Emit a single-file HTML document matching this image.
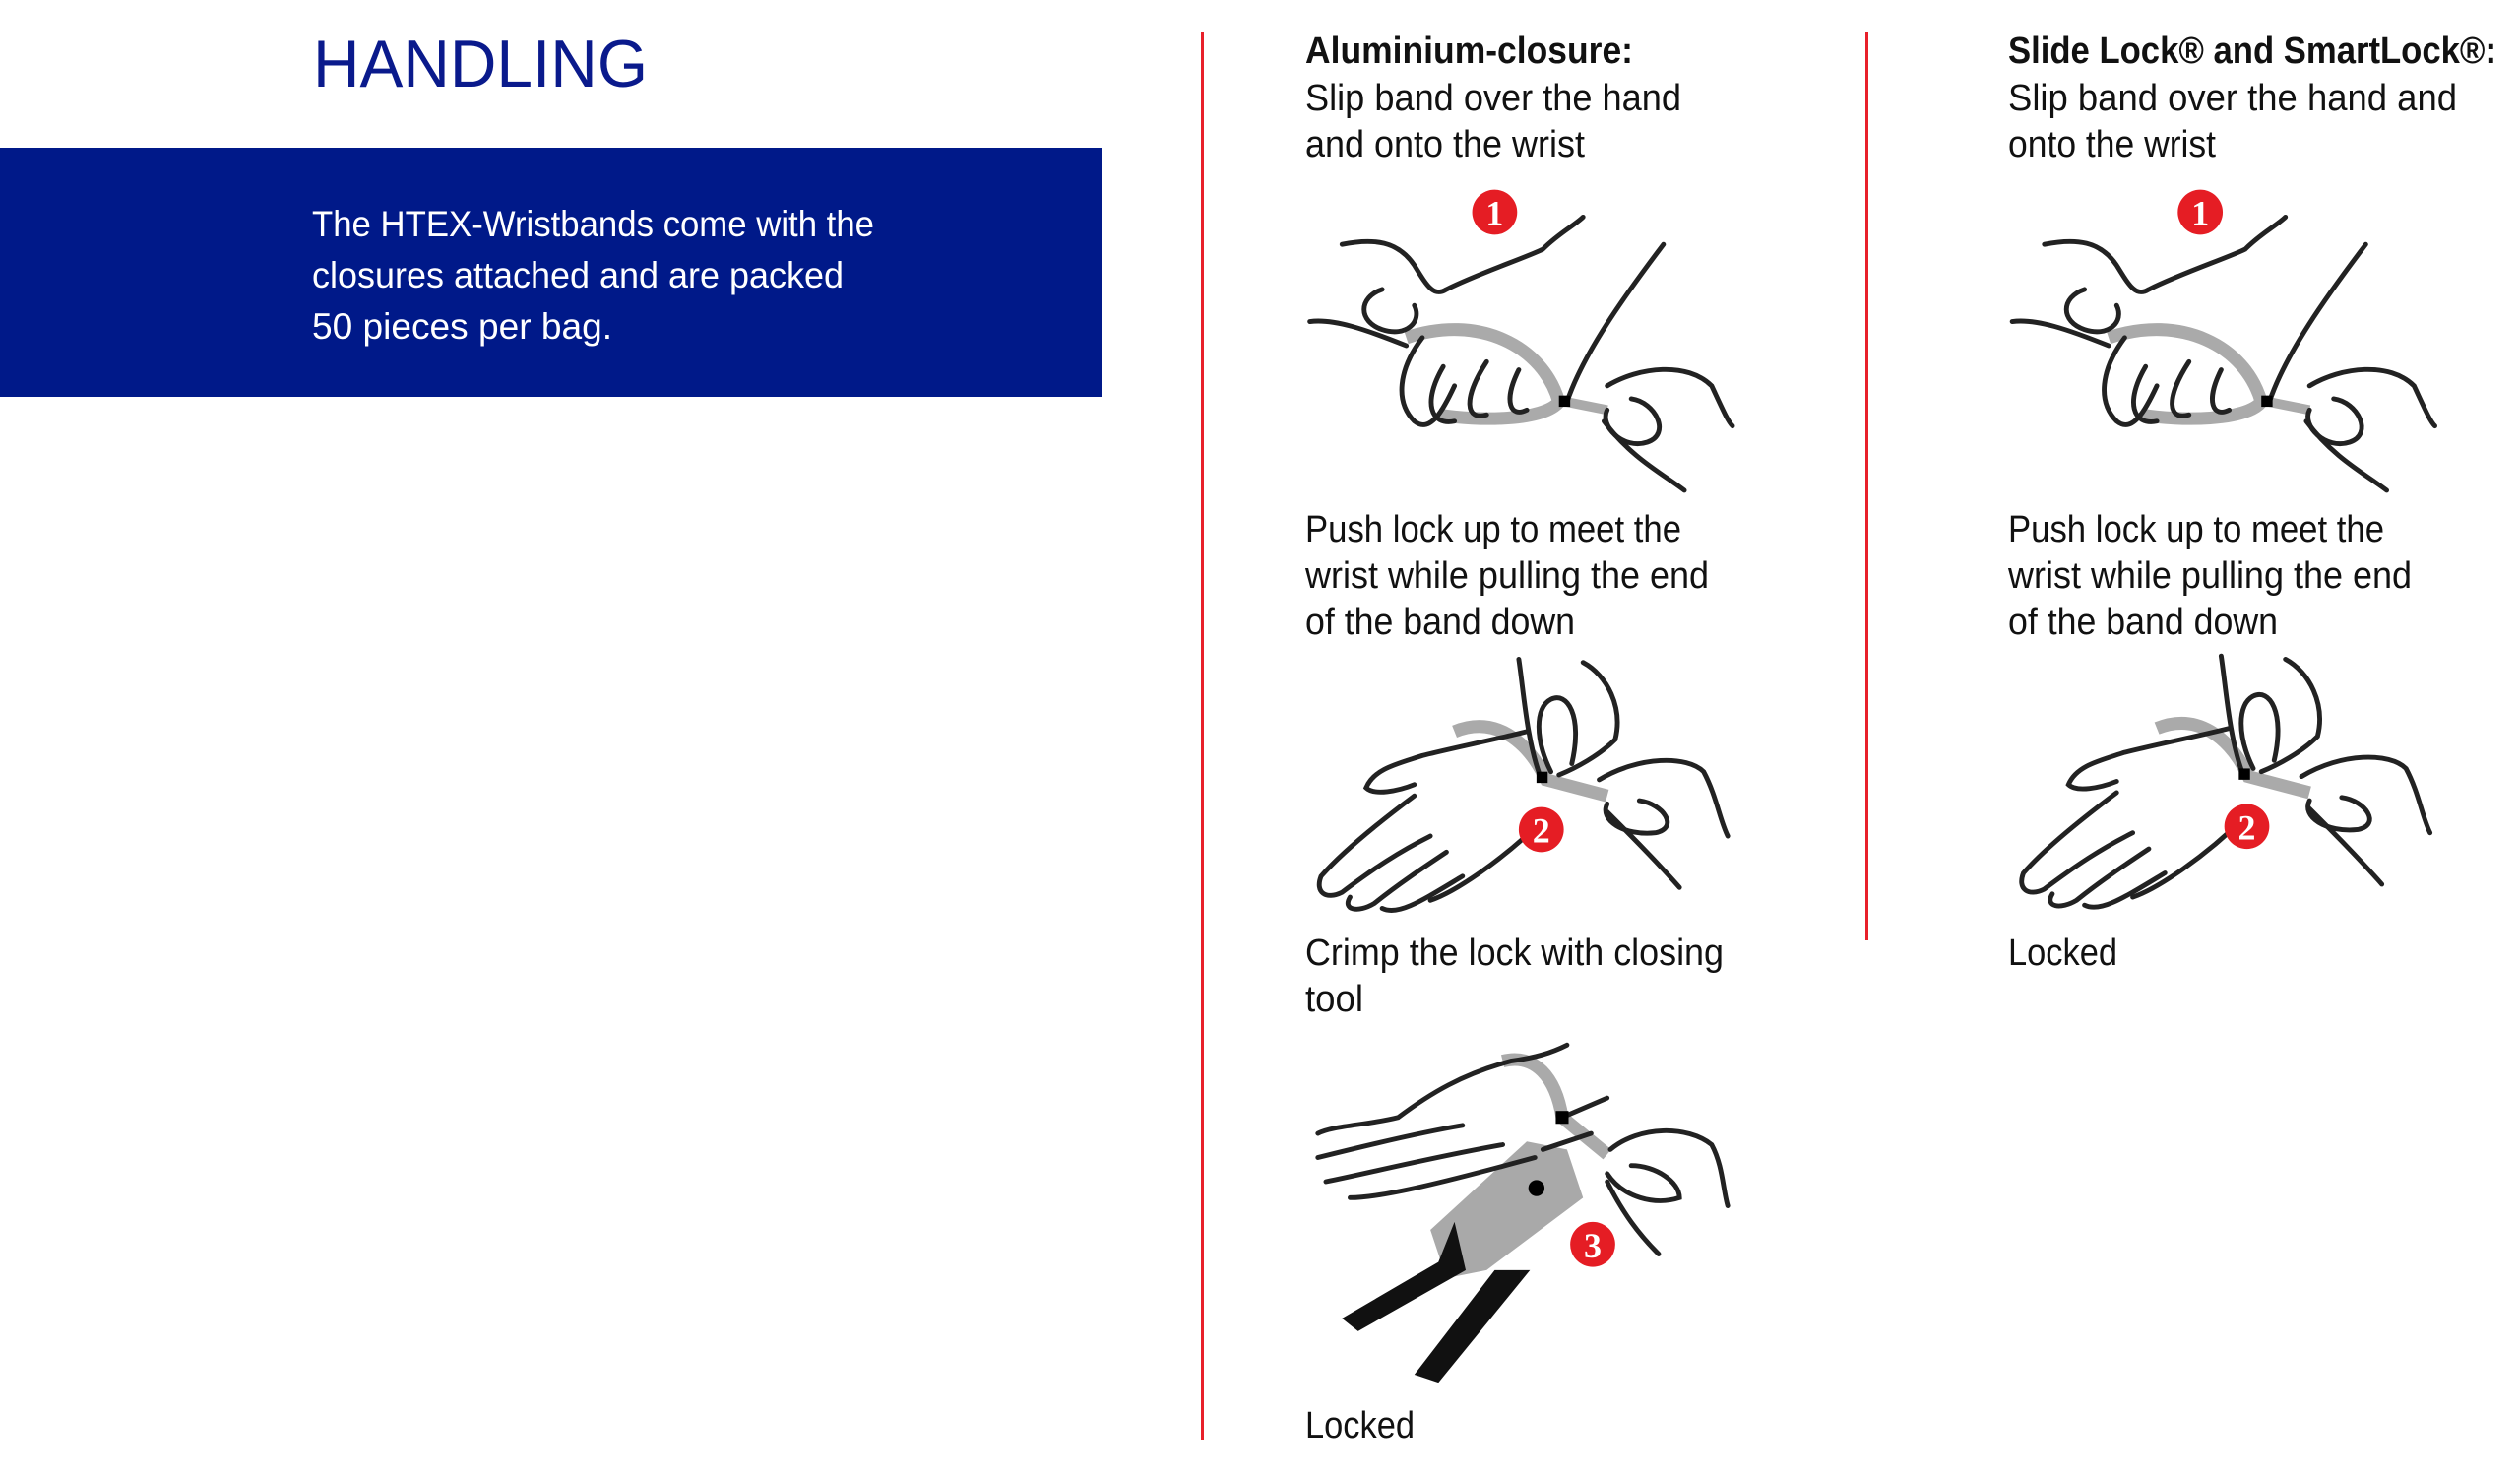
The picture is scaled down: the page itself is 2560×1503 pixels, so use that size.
<!DOCTYPE html>
<html><head><meta charset="utf-8"><style>
html,body{margin:0;padding:0;background:#fff;}
svg{display:block;}
text{font-family:"Liberation Sans",sans-serif;}
</style></head><body>
<svg width="2560" height="1503" viewBox="0 0 2560 1503" xmlns="http://www.w3.org/2000/svg">
<rect width="2560" height="1503" fill="#fff"/>
<text x="318" y="88" font-size="68" fill="#0a1a8c" textLength="340" lengthAdjust="spacingAndGlyphs">HANDLING</text>
<rect x="0" y="150" width="1120" height="253" fill="#001989"/>
<g fill="#fff" font-size="37">
<text x="317" y="240" textLength="571" lengthAdjust="spacingAndGlyphs">The HTEX-Wristbands come with the</text>
<text x="317" y="292" textLength="540" lengthAdjust="spacingAndGlyphs">closures attached and are packed</text>
<text x="317" y="344" textLength="305" lengthAdjust="spacingAndGlyphs">50 pieces per bag.</text>
</g>
<rect x="1220" y="33" width="3" height="1429" fill="#e8202a"/>
<rect x="1895" y="33" width="3" height="922" fill="#e8202a"/>
<g fill="#111" font-size="38">
<text x="1326" y="64" font-weight="bold" textLength="333" lengthAdjust="spacingAndGlyphs">Aluminium-closure:</text>
<text x="1326" y="112" textLength="382" lengthAdjust="spacingAndGlyphs">Slip band over the hand</text>
<text x="1326" y="159" textLength="284" lengthAdjust="spacingAndGlyphs">and onto the wrist</text>
<text x="1326" y="550" textLength="382" lengthAdjust="spacingAndGlyphs">Push lock up to meet the</text>
<text x="1326" y="597" textLength="410" lengthAdjust="spacingAndGlyphs">wrist while pulling the end</text>
<text x="1326" y="644" textLength="274" lengthAdjust="spacingAndGlyphs">of the band down</text>
<text x="1326" y="980" textLength="425" lengthAdjust="spacingAndGlyphs">Crimp the lock with closing</text>
<text x="1326" y="1027" textLength="59" lengthAdjust="spacingAndGlyphs">tool</text>
<text x="1326" y="1460" textLength="111" lengthAdjust="spacingAndGlyphs">Locked</text>
<text x="2040" y="64" font-weight="bold" textLength="496" lengthAdjust="spacingAndGlyphs">Slide Lock® and SmartLock®:</text>
<text x="2040" y="112" textLength="456" lengthAdjust="spacingAndGlyphs">Slip band over the hand and</text>
<text x="2040" y="159" textLength="211" lengthAdjust="spacingAndGlyphs">onto the wrist</text>
<text x="2040" y="550" textLength="382" lengthAdjust="spacingAndGlyphs">Push lock up to meet the</text>
<text x="2040" y="597" textLength="410" lengthAdjust="spacingAndGlyphs">wrist while pulling the end</text>
<text x="2040" y="644" textLength="274" lengthAdjust="spacingAndGlyphs">of the band down</text>
<text x="2040" y="980" textLength="111" lengthAdjust="spacingAndGlyphs">Locked</text>
</g>
<defs>
<g id="s1">
<path d="M875,210 C920,195 960,215 970,250 C960,262 920,262 895,258" fill="none" stroke="#aaa" stroke-width="8"/>
<path d="M975,250 L1000,255" stroke="#aaa" stroke-width="6"/>
<g fill="none" stroke="#222" stroke-width="3" stroke-linecap="round">
<path d="M815,200 C830,198 850,205 875,215"/>
<path d="M835,152 C855,148 870,150 880,165 C888,178 892,185 900,180 C920,170 950,160 960,155 C970,145 980,140 985,135"/>
<path d="M860,180 C845,185 845,200 860,205 C875,210 885,200 880,190"/>
<path d="M1035,152 C1010,185 985,220 975,250"/>
<path d="M885,210 C870,230 868,250 880,262 C890,270 898,255 905,240"/>
<path d="M898,228 C885,250 890,265 905,262"/>
<path d="M925,225 C910,248 912,262 925,258"/>
<path d="M945,230 C935,250 940,260 950,255"/>
<path d="M1000,240 C1020,228 1050,225 1065,240 C1072,255 1075,262 1078,265"/>
<path d="M1000,255 C995,265 1010,280 1025,275 C1040,270 1030,250 1015,248"/>
<path d="M998,262 C1015,285 1035,295 1048,305"/>
</g>
<rect x="970" y="246" width="7" height="7" fill="#000"/>
</g>
<g id="s2">
<path d="M905,455 C930,445 950,460 962,485 L1000,495" fill="none" stroke="#aaa" stroke-width="8"/>
<g fill="none" stroke="#222" stroke-width="3" stroke-linecap="round">
<path d="M950,455 C930,460 905,465 885,470 C870,475 855,478 850,490 C855,495 870,492 880,488"/>
<path d="M880,495 C860,510 835,530 822,545 C818,555 825,560 835,555 C855,540 870,530 890,520"/>
<path d="M840,558 C835,566 845,568 855,562 C870,550 885,540 900,530"/>
<path d="M860,565 C870,570 885,560 910,545"/>
<path d="M890,560 C905,555 935,535 960,510"/>
<path d="M945,410 C948,430 950,460 958,482"/>
<path d="M965,480 C955,460 955,440 965,435 C975,430 985,445 978,475"/>
<path d="M985,412 C1000,420 1010,440 1005,460 C995,470 980,478 970,482"/>
<path d="M995,485 C1020,470 1050,470 1060,480 C1068,495 1070,510 1075,520"/>
<path d="M1000,500 C995,510 1010,520 1030,518 C1045,515 1035,500 1020,498"/>
<path d="M1000,505 C1015,520 1030,535 1045,552"/>
</g>
<rect x="956" y="480" width="7" height="7" fill="#000"/>
</g>
</defs>
<g transform="scale(1.6327,1.6327)">
<use href="#s1"/>
<use href="#s1" transform="translate(437,0)"/>
<use href="#s2"/>
<use href="#s2" transform="translate(437,-2)"/>
<path d="M935,660 C955,655 968,670 972,695 L1000,718" fill="none" stroke="#aaa" stroke-width="8"/>
<polygon points="890,765 950,710 975,715 985,745 925,790 900,795" fill="#a9a9a9"/>
<circle cx="956" cy="739" r="5" fill="#000"/>
<polygon points="835,820 895,785 905,760 912,790 845,828" fill="#111"/>
<polygon points="880,855 930,790 952,790 895,860" fill="#111"/>
<g fill="none" stroke="#222" stroke-width="3" stroke-linecap="round">
<path d="M820,705 C830,700 850,700 870,695 C890,680 910,668 940,660 C955,658 965,655 975,650"/>
<path d="M820,720 C840,715 880,705 910,700"/>
<path d="M825,735 C850,730 890,720 935,712"/>
<path d="M840,745 C860,745 900,735 955,720"/>
<path d="M960,715 L990,705"/>
<path d="M972,695 L1000,683"/>
<path d="M1002,715 C1020,700 1050,700 1065,712 C1072,725 1072,740 1075,750"/>
<path d="M1000,730 C1010,745 1030,750 1045,745 C1045,735 1030,725 1015,725"/>
<path d="M1000,735 C1010,755 1020,768 1032,780"/>
</g>
<rect x="968" y="691" width="8" height="8" fill="#000"/>
<g fill="#e51d24">
<circle cx="930" cy="132" r="14"/><circle cx="1369" cy="132" r="14"/>
<circle cx="959" cy="516" r="14"/><circle cx="1398" cy="514" r="14"/>
<circle cx="991" cy="774" r="14"/>
</g>
<g fill="#fff" font-weight="bold" font-size="22" text-anchor="middle">
<text x="930" y="140" style="font-family:'Liberation Serif',serif">1</text>
<text x="1369" y="140" style="font-family:'Liberation Serif',serif">1</text>
<text x="959" y="524" style="font-family:'Liberation Serif',serif">2</text>
<text x="1398" y="522" style="font-family:'Liberation Serif',serif">2</text>
<text x="991" y="782" style="font-family:'Liberation Serif',serif">3</text>
</g>
</g>
</svg>
</body></html>
